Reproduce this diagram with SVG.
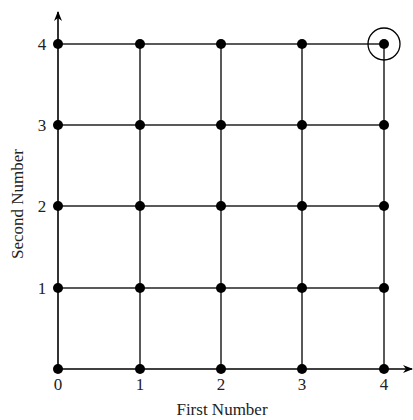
<svg xmlns="http://www.w3.org/2000/svg" width="413" height="420" viewBox="0 0 413 420">
<defs>
<marker id="arr" markerWidth="10" markerHeight="8" refX="9" refY="4" orient="auto" markerUnits="userSpaceOnUse">
<path d="M0,0 L10,4 L0,8 L3,4 Z" fill="#000"/>
</marker>
<style>
.grid{stroke:#222;stroke-width:1.5;fill:none}
.axis{stroke:#000;stroke-width:1.6;fill:none}
.dot{fill:#000}
.t{font-family:"Liberation Serif",serif;font-size:17px;fill:#222}
</style>
</defs>
<rect width="413" height="420" fill="#fff"/>
<g id="connectors">
<line class="grid" x1="58" y1="44" x2="384" y2="44"/>
<line class="grid" x1="58" y1="125" x2="384" y2="125"/>
<line class="grid" x1="58" y1="206" x2="384" y2="206"/>
<line class="grid" x1="58" y1="288" x2="384" y2="288"/>
<line class="grid" x1="140" y1="44" x2="140" y2="369"/>
<line class="grid" x1="221" y1="44" x2="221" y2="369"/>
<line class="grid" x1="302" y1="44" x2="302" y2="369"/>
<line class="grid" x1="384" y1="44" x2="384" y2="369"/>
<line class="axis" x1="58" y1="369" x2="58" y2="12" marker-end="url(#arr)"/>
<line class="axis" x1="58" y1="369" x2="412" y2="369" marker-end="url(#arr)"/>
</g>
<g id="nodes">
<g id="r4"><circle class="dot" cx="58" cy="44" r="5"/><circle class="dot" cx="140" cy="44" r="5"/><circle class="dot" cx="221" cy="44" r="5"/><circle class="dot" cx="302" cy="44" r="5"/><circle class="dot" cx="384" cy="44" r="5"/></g>
<g id="r3"><circle class="dot" cx="58" cy="125" r="5"/><circle class="dot" cx="140" cy="125" r="5"/><circle class="dot" cx="221" cy="125" r="5"/><circle class="dot" cx="302" cy="125" r="5"/><circle class="dot" cx="384" cy="125" r="5"/></g>
<g id="r2"><circle class="dot" cx="58" cy="206" r="5"/><circle class="dot" cx="140" cy="206" r="5"/><circle class="dot" cx="221" cy="206" r="5"/><circle class="dot" cx="302" cy="206" r="5"/><circle class="dot" cx="384" cy="206" r="5"/></g>
<g id="r1"><circle class="dot" cx="58" cy="288" r="5"/><circle class="dot" cx="140" cy="288" r="5"/><circle class="dot" cx="221" cy="288" r="5"/><circle class="dot" cx="302" cy="288" r="5"/><circle class="dot" cx="384" cy="288" r="5"/></g>
<g id="r0"><circle class="dot" cx="58" cy="369" r="5"/><circle class="dot" cx="140" cy="369" r="5"/><circle class="dot" cx="221" cy="369" r="5"/><circle class="dot" cx="302" cy="369" r="5"/><circle class="dot" cx="384" cy="369" r="5"/></g>
<circle id="highlight" cx="384" cy="44" r="16" fill="none" stroke="#000" stroke-width="1.3"/>
</g>
<g id="labels">
<text class="t" x="42" y="50" text-anchor="middle">4</text>
<text class="t" x="42" y="131" text-anchor="middle">3</text>
<text class="t" x="42" y="212" text-anchor="middle">2</text>
<text class="t" x="42" y="294" text-anchor="middle">1</text>
<text class="t" x="58" y="390" text-anchor="middle">0</text>
<text class="t" x="140" y="390" text-anchor="middle">1</text>
<text class="t" x="221" y="390" text-anchor="middle">2</text>
<text class="t" x="302" y="390" text-anchor="middle">3</text>
<text class="t" x="384" y="390" text-anchor="middle">4</text>
<text class="t" x="222" y="415" text-anchor="middle">First Number</text>
<text class="t" transform="translate(23,204) rotate(-90)" text-anchor="middle">Second Number</text>
</g>
</svg>
